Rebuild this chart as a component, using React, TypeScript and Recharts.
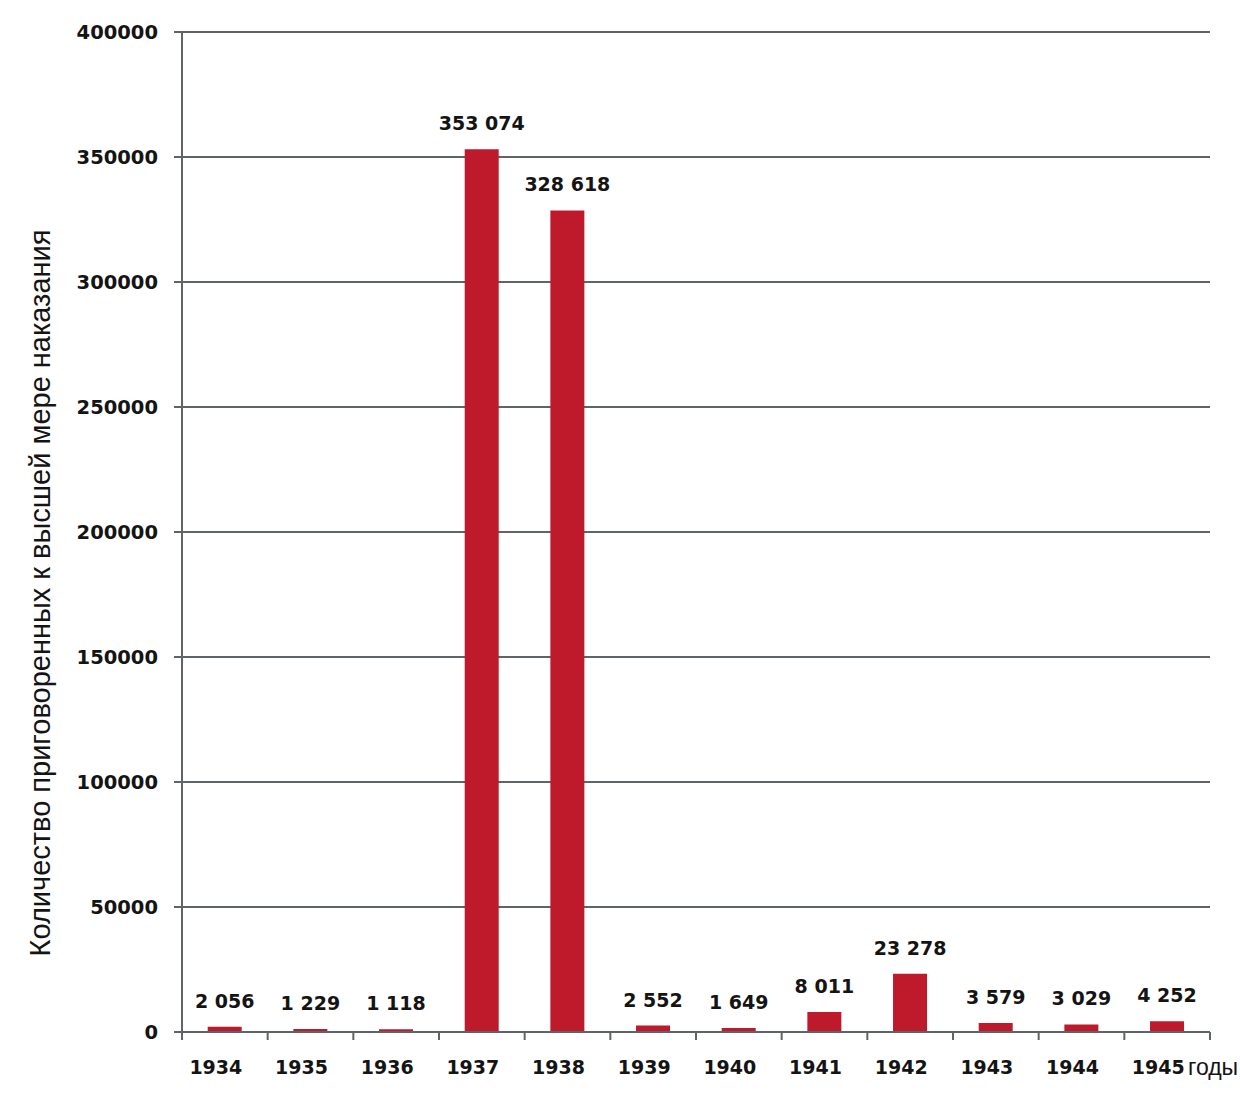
import React from 'react';
import { BarChart, Bar, XAxis, YAxis, CartesianGrid, LabelList } from 'recharts';

const years = ['1934', '1935', '1936', '1937', '1938', '1939', '1940', '1941', '1942', '1943', '1944', '1945'];
const sentenced = [2056, 1229, 1118, 353074, 328618, 2552, 1649, 8011, 23278, 3579, 3029, 4252];
const yTicks = [0, 50000, 100000, 150000, 200000, 250000, 300000, 350000, 400000];

const data = years.map((y, i) => ({ year: y, v: sentenced[i] }));

const GRID = '#5f6468';
const TXT = '#141414';
const FONT = '"DejaVu Sans", sans-serif';

const fmt = (n: any) => {
  const s = String(n);
  return s.replace(/\B(?=(\d{3})+(?!\d))/g, '\u00A0');
};

const XTick = (props: any) => {
  const { x, y, payload, index } = props;
  const off = payload && typeof payload.offset === 'number' ? payload.offset : 0;
  const isLast = index === years.length - 1;
  return (
    <g>
      <line x1={x - off} x2={x - off} y1={y - 8} y2={y} stroke={GRID} strokeWidth={2} />
      {isLast && <line x1={x + off} x2={x + off} y1={y - 8} y2={y} stroke={GRID} strokeWidth={2} />}
      <text x={x - 9} y={y + 34} textAnchor="middle" fill={TXT} fontFamily={FONT} fontWeight="bold" fontSize={19}>
        {payload.value}
      </text>
    </g>
  );
};

export default function App() {
  return (
    <div style={{ position: 'absolute', left: 0, top: 0, width: 1240, height: 1098, background: '#fff' }}>
      <BarChart
        width={1240}
        height={1098}
        data={data}
        margin={{ top: 32, right: 30, left: 62, bottom: 26 }}
        barCategoryGap="30%"
      >
        <CartesianGrid vertical={false} stroke={GRID} strokeWidth={2} />
        <XAxis
          dataKey="year"
          height={40}
          axisLine={{ stroke: GRID, strokeWidth: 2 }}
          tickLine={false}
          tick={<XTick />}
          interval={0}
        />
        <YAxis
          width={120}
          domain={[0, 400000]}
          ticks={yTicks}
          interval={0}
          axisLine={{ stroke: GRID, strokeWidth: 2 }}
          tickLine={{ stroke: GRID, strokeWidth: 2 }}
          tickSize={8}
          tickMargin={16}
          tick={{ fill: TXT, fontFamily: FONT, fontWeight: 'bold', fontSize: 19.5 }}
          label={{
            value: 'Количество приговоренных к высшей мере наказания',
            angle: -90,
            position: 'center',
            dx: -82,
            dy: 61,
            fill: TXT,
            fontFamily: '"Liberation Sans", Arial, sans-serif',
            fontSize: 29,
          }}
        />
        <Bar dataKey="v" fill="#be1a2c" isAnimationActive={false}>
          <LabelList
            dataKey="v"
            position="top"
            offset={19}
            formatter={fmt}
            fill={TXT}
            fontFamily={FONT}
            fontWeight="bold"
            fontSize={19}
          />
        </Bar>
      </BarChart>
      <div
        style={{
          position: 'absolute',
          left: 1188,
          top: 1053,
          fontFamily: '"Liberation Sans", Arial, sans-serif',
          fontSize: 23,
          color: TXT,
          lineHeight: '28px',
        }}
      >
        годы
      </div>
    </div>
  );
}
